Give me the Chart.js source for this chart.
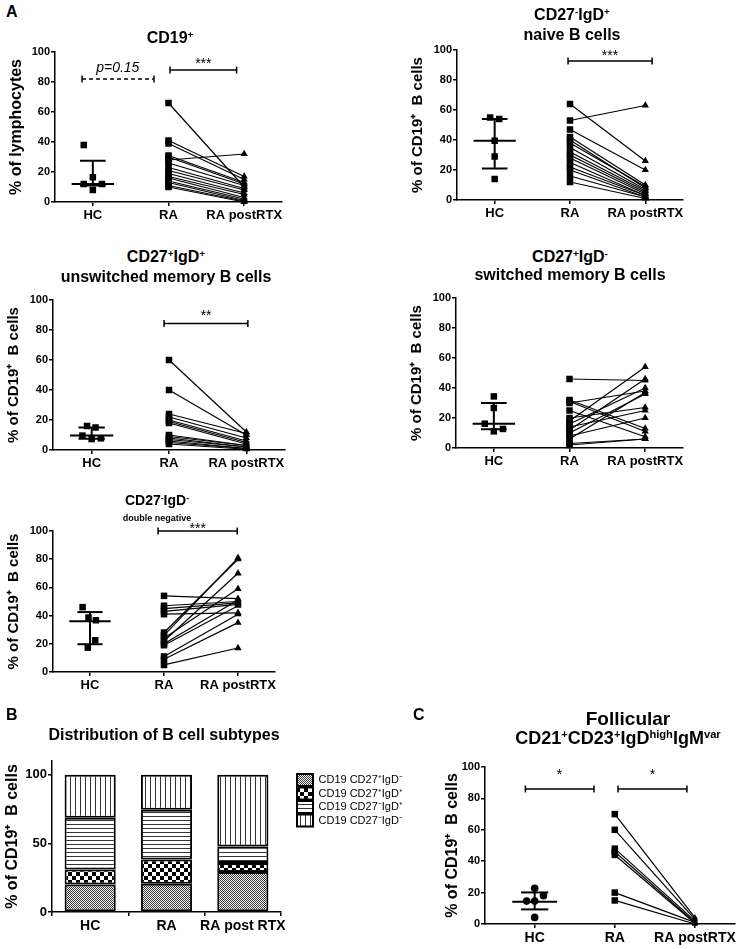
<!DOCTYPE html>
<html><head><meta charset="utf-8">
<script src="https://cdn.jsdelivr.net/npm/chart.js@4.4.0/dist/chart.umd.min.js"></script>
<style>
html,body{margin:0;padding:0;background:#fff;}
body{width:740px;height:949px;position:relative;overflow:hidden;font-family:"Liberation Sans",Arial,Helvetica,sans-serif;color:#000;}
canvas{position:absolute;}
.t{position:absolute;font-weight:bold;white-space:nowrap;transform:translate(-50%,-50%);line-height:1;z-index:5;}
.lt{position:absolute;font-weight:bold;font-size:16px;line-height:1;z-index:5;}
.t sup{font-size:0.62em;position:relative;top:-0.5em;vertical-align:baseline;line-height:0;}
</style></head>
<body>
<div class="lt" style="left:6px;top:4px">A</div>
<div class="t" style="left:170px;top:38px;font-size:16px">CD19<sup>+</sup></div>
<div class="t" style="left:572px;top:15px;font-size:16px">CD27<sup>-</sup>IgD<sup>+</sup></div>
<div class="t" style="left:572px;top:35px;font-size:16px">naive B cells</div>
<div class="t" style="left:166px;top:257px;font-size:16px">CD27<sup>+</sup>IgD<sup>+</sup></div>
<div class="t" style="left:166px;top:277px;font-size:16px">unswitched memory B cells</div>
<div class="t" style="left:570px;top:257px;font-size:16px">CD27<sup>+</sup>IgD<sup>-</sup></div>
<div class="t" style="left:570px;top:275px;font-size:16px">switched memory B cells</div>
<div class="t" style="left:157px;top:500px;font-size:14px">CD27<sup>-</sup>IgD<sup>-</sup></div>
<div class="t" style="left:157px;top:518px;font-size:9px">double negative</div>
<div class="lt" style="left:6px;top:707px">B</div>
<div class="t" style="left:164px;top:735px;font-size:16px">Distribution of B cell subtypes</div>
<div class="lt" style="left:413px;top:707px">C</div>
<div class="t" style="left:628px;top:718px;font-size:19px">Follicular</div>
<div class="t" style="left:618px;top:738px;font-size:18px">CD21<sup>+</sup>CD23<sup>+</sup>IgD<sup>high</sup>IgM<sup>var</sup></div>

<canvas id="a1"></canvas>
<canvas id="a2"></canvas>
<canvas id="a3"></canvas>
<canvas id="a4"></canvas>
<canvas id="a5"></canvas>
<canvas id="b"></canvas>
<canvas id="c"></canvas>

<script>
// ---------------- DATA ----------------
const categories = ['HC', 'RA', 'RA postRTX'];

// A1: CD19+ (% of lymphocytes)
const cd19HC = [38, 16.5, 12, 12, 8];
const cd19HCJitter = [-0.12, 0, -0.12, 0.12, 0];
const cd19Stats = [11, 12, 27.5];            // [lower, median, upper]
const cd19RA   = [66, 41, 39, 31, 30, 28, 26, 23, 21, 19, 17, 16, 14, 13, 11, 10];
const cd19Post = [10, 17, 15, 13, 12, 32, 11, 9, 8, 6, 5, 3, 2, 1, 0.5, 0];

// A2: CD27-IgD+ naive
const naiveHC = [55, 54, 39.5, 29, 14];
const naiveHCJitter = [-0.06, 0.06, 0, 0, 0];
const naiveStats = [21, 39.5, 54];
const naiveRA   = [64, 53, 47, 42, 40, 38, 35, 32, 30, 28, 25, 22, 20, 16, 12];
const naivePost = [26, 63, 20, 10, 8, 9, 7, 6, 5, 4, 3, 3, 2, 2, 1];

// A3: CD27+IgD+ unswitched memory
const unswHC = [16, 15, 9.6, 7.3, 7.8];
const unswHCJitter = [-0.06, 0.05, -0.12, 0, 0.12];
const unswStats = [7.5, 9.6, 15];
const unswRA   = [60, 40, 24, 22, 20, 19, 18, 10, 9, 8, 7, 6, 5, 4];
const unswPost = [12, 10, 11, 8, 6, 5, 4, 3, 3, 2, 2, 1, 1, 0.5];

// A4: CD27+IgD- switched memory
const swHC = [34.4, 26.7, 16.2, 11.1, 12.7];
const swHCJitter = [0, 0, -0.12, 0, 0.12];
const swStats = [12.5, 16.2, 30];
const swRA   = [46, 32, 31, 30, 25, 20, 18, 16, 14, 12, 10, 8, 6, 3, 2];
const swPost = [45, 13, 11, 38, 7.5, 27, 54, 40, 25, 46, 36, 20, 37, 6, 6];

// A5: CD27-IgD- double negative
const dnHC = [46, 38.6, 36.7, 22.5, 17.3];
const dnHCJitter = [-0.1, -0.02, 0.08, 0.07, -0.03];
const dnStats = [19.7, 36, 42.5];
const dnRA   = [54, 47, 45, 43, 41, 28, 26, 24, 22, 20, 19, 11, 9, 5];
const dnPost = [52, 50, 49, 48, 42, 80, 81, 59, 70, 51, 47, 41, 35, 17];

// C: Follicular
const follHC = [22.7, 18, 14.6, 14.6, 4.2];
const follHCJitter = [0, 0.11, -0.1, 0, 0];
const follStats = [9.3, 14.2, 20.1];
const follRA   = [70, 60, 48, 46, 44, 20, 15];
const follPost = [4, 3, 2, 1, 0.5, 1, 0];

// B: distribution of B cell subtypes (stacked %)
const bCategories = ['HC', 'RA', 'RA post RTX'];
const bLegend = ['CD19 CD27\u207AIgD\u207B', 'CD19 CD27\u207AIgD\u207A', 'CD19 CD27\u207BIgD\u207A', 'CD19 CD27\u207BIgD\u207B'];
const bSwitched   = [20, 20.6, 29.1];
const bUnswitched = [11, 17.7, 6.6];
const bNaive      = [37.7, 36.2, 12.1];
const bDN         = [31.3, 25.5, 52.2];

// ---------------- RENDER ----------------
const FONT = '"Liberation Sans", Arial, Helvetica, sans-serif';
Chart.defaults.font.family = FONT;
Chart.defaults.color = '#000';

const textPlugin = {
  id: 'txt',
  afterDatasetsDraw(chart, args, opts) {
    const ctx = chart.ctx, x = chart.scales.x, y = chart.scales.y;
    (opts.items || []).forEach(it => {
      ctx.save();
      ctx.font = it.font + ' ' + FONT;
      ctx.fillStyle = '#000';
      ctx.textAlign = 'center';
      ctx.textBaseline = 'middle';
      const size = parseFloat(it.font.match(/([\d.]+)px/)[1]);
      const dy = it.text.indexOf('*') >= 0 ? size * 0.25 : 0;
      ctx.fillText(it.text, x.getPixelForValue(it.x), y.getPixelForValue(it.y) + dy);
      ctx.restore();
    });
  }
};

const axisGrid = {display: true, drawOnChartArea: false, drawTicks: true, tickLength: 4, color: '#000', lineWidth: 1.5};
const axisBorder = {display: true, color: '#000', width: 1.5};

function scatterPanel(id, box, o) {
  const yW = o.yW || 52, xH = 35, padT = 30, padR = 8;
  const cv = document.getElementById(id);
  const left = box.l - yW, top = box.t - padT;
  cv.width = box.r + padR - left; cv.height = box.b + xH - top;
  cv.style.left = left + 'px'; cv.style.top = top + 'px';
  const line = (pts, w) => ({data: pts, showLine: true, borderColor: '#000', borderWidth: w, pointRadius: 0, clip: false});
  const ds = [];
  o.ra.forEach((v, i) => ds.push({
    data: [{x: 1, y: v}, {x: 2, y: o.post[i]}], showLine: true, borderColor: '#000', borderWidth: 1.2,
    backgroundColor: '#000', pointBackgroundColor: '#000', pointBorderWidth: 0,
    pointStyle: ['rect', 'triangle'], pointRadius: [o.sq || 4.6, o.tri || 4.2], clip: false
  }));
  ds.push({data: o.hc.map((v, i) => ({x: o.hcJit[i], y: v})), showLine: false,
    pointStyle: o.hcStyle || 'rect', pointRadius: o.hcStyle === 'circle' ? 3.8 : 4.6,
    pointBackgroundColor: '#000', pointBorderWidth: 0, clip: false});
  const [q1, med, q3] = o.stats;
  ds.push(line([{x: -0.28, y: med}, {x: 0.28, y: med}], 2));
  ds.push(line([{x: 0, y: q1}, {x: 0, y: q3}], 2));
  ds.push(line([{x: -0.17, y: q3}, {x: 0.17, y: q3}], 2));
  ds.push(line([{x: -0.17, y: q1}, {x: 0.17, y: q1}], 2));
  o.sig.forEach(s => ds.push({
    data: [{x: s[0], y: s[2]}, {x: s[1], y: s[2]}], showLine: true, borderColor: '#000', borderWidth: 1.5,
    borderDash: s[3] ? [4, 3] : [], pointStyle: 'line', rotation: 90, pointRadius: 3.5,
    pointBorderWidth: 1.5, pointBorderColor: '#000', clip: false
  }));
  new Chart(cv, {
    type: 'scatter',
    data: {datasets: ds},
    options: {
      responsive: false, animation: false, events: [],
      layout: {padding: {top: padT, right: padR, left: 0, bottom: 0}},
      plugins: {legend: {display: false}, tooltip: {enabled: false}, txt: {items: o.txt}},
      scales: {
        x: {
          type: 'linear', min: o.xmin !== undefined ? o.xmin : -0.5, max: 2.5,
          afterBuildTicks: s => { s.ticks = [0, 1, 2].map(v => ({value: v})); },
          ticks: {callback: v => categories[v], font: {size: o.catSize || 13, weight: 'bold'}, color: '#000', padding: 2, maxRotation: 0, autoSkip: false},
          grid: axisGrid, border: axisBorder,
          afterFit: s => { s.height = xH; s.paddingLeft = 0; s.paddingRight = 0; }
        },
        y: {
          min: 0, max: 100,
          afterBuildTicks: s => { s.ticks = [0, 20, 40, 60, 80, 100].map(v => ({value: v})); },
          ticks: {font: {size: o.tickSize || 11, weight: 'bold'}, color: '#000', padding: 1},
          grid: axisGrid, border: axisBorder,
          title: {display: true, text: o.yTitle, font: {size: o.ytSize || 15, weight: 'bold'}, color: '#000', padding: {top: 4, bottom: 0}},
          afterFit: s => { s.width = yW; s.paddingTop = 0; s.paddingBottom = 0; }
        }
      }
    },
    plugins: [textPlugin]
  });
}

const yCD19 = '% of CD19\u207A  B cells';
const starFont = '14px';

scatterPanel('a1', {l: 55, r: 282, t: 52, b: 202}, {
  hc: cd19HC, hcJit: cd19HCJitter, stats: cd19Stats, ra: cd19RA, post: cd19Post,
  yTitle: '% of lymphocytes', ytSize: 16,
  sig: [[-0.143, 0.808, 82, true], [1.02, 1.9, 88]],
  txt: [{x: 0.33, y: 89.5, text: 'p=0.15', font: 'italic 14px'}, {x: 1.46, y: 94, text: '***', font: starFont}]
});
scatterPanel('a2', {l: 457, r: 683, t: 50, b: 200}, {
  hc: naiveHC, hcJit: naiveHCJitter, stats: naiveStats, ra: naiveRA, post: naivePost,
  yTitle: yCD19,
  sig: [[0.974, 2.09, 92.7]],
  txt: [{x: 1.53, y: 98, text: '***', font: starFont}]
});
scatterPanel('a3', {l: 53, r: 285, t: 300, b: 450}, {
  hc: unswHC, hcJit: unswHCJitter, stats: unswStats, ra: unswRA, post: unswPost,
  yTitle: yCD19,
  sig: [[0.936, 2.02, 84.4]],
  txt: [{x: 1.48, y: 91.5, text: '**', font: starFont}]
});
scatterPanel('a4', {l: 456, r: 683, t: 298, b: 448}, {
  hc: swHC, hcJit: swHCJitter, stats: swStats, ra: swRA, post: swPost,
  yTitle: yCD19, sig: [], txt: []
});
scatterPanel('a5', {l: 53, r: 275, t: 531, b: 672}, {
  hc: dnHC, hcJit: dnHCJitter, stats: dnStats, ra: dnRA, post: dnPost,
  yTitle: yCD19,
  sig: [[0.92, 1.99, 100]],
  txt: [{x: 1.455, y: 104, text: '***', font: starFont}]
});
scatterPanel('c', {l: 485, r: 735, t: 767, b: 924}, {
  hc: follHC, hcJit: follHCJitter, stats: follStats, ra: follRA, post: follPost,
  hcStyle: 'circle', xmin: -0.62, yW: 46, ytSize: 16, catSize: 14, tri: 3.6,
  yTitle: yCD19,
  sig: [[-0.116, 0.74, 86], [1.04, 1.9, 86]],
  txt: [{x: 0.31, y: 97, text: '*', font: starFont}, {x: 1.47, y: 97, text: '*', font: starFont}]
});

// ---------- Panel B (stacked bars with patterns) ----------
(function () {
  const box = {l: 52, r: 281, t: 761, b: 912};
  const yW = 52, xH = 35, padT = 5, legendW = 95, padR = 30;
  const cv = document.getElementById('b');
  const left = box.l - yW, top = box.t - padT;
  cv.width = box.r + legendW + padR - left; cv.height = box.b + xH - top;
  cv.style.left = left + 'px'; cv.style.top = top + 'px';
  const ctx = cv.getContext('2d');
  function pat(w, h, draw) {
    const c = document.createElement('canvas'); c.width = w; c.height = h;
    const g = c.getContext('2d'); g.fillStyle = '#fff'; g.fillRect(0, 0, w, h);
    draw(g);
    return ctx.createPattern(c, 'repeat');
  }
  const pFine = pat(2, 2, g => { g.fillStyle = '#333'; g.fillRect(0, 0, 1, 1); g.fillRect(1, 1, 1, 1); });
  const pCheck = pat(8, 8, g => { g.fillStyle = '#000'; g.fillRect(0, 0, 4, 4); g.fillRect(4, 4, 4, 4); });
  const pHoriz = pat(1, 4, g => { g.fillStyle = '#333'; g.fillRect(0, 0, 1, 1); });
  const pVert = pat(5, 1, g => { g.fillStyle = '#333'; g.fillRect(0, 0, 1, 1); });
  const series = [bSwitched, bUnswitched, bNaive, bDN];
  const fills = [pFine, pCheck, pHoriz, pVert];
  const legendPos = {
    id: 'legendPos',
    afterLayout(chart) {
      const L = chart.legend; if (!L) return;
      const dx = (297 - left - 1.5) - L.left, dy = (774 - top - 1.5) - L.top;
      L.left += dx; L.top += dy; L.bottom += dy;
      L.right = L.left + 140; L.width = 140;
    }
  };
  new Chart(cv, {
    type: 'bar',
    data: {
      labels: bCategories,
      datasets: series.map((s, i) => ({
        label: bLegend[i], data: s, backgroundColor: fills[i], borderColor: '#000', borderWidth: 2,
        borderSkipped: false, barPercentage: 0.67, categoryPercentage: 1
      }))
    },
    options: {
      responsive: false, animation: false, events: [],
      layout: {padding: {top: padT, right: padR, left: 0, bottom: 0}},
      plugins: {
        tooltip: {enabled: false},
        legend: {position: 'right', align: 'start', maxWidth: legendW,
          labels: {boxWidth: 16, boxHeight: 12, padding: 1.5, font: {size: 11}, color: '#000'}}
      },
      scales: {
        x: {stacked: true,
          ticks: {font: {size: 14, weight: 'bold'}, color: '#000', padding: 2, maxRotation: 0, autoSkip: false},
          grid: axisGrid, border: axisBorder,
          afterFit: s => { s.height = xH; s.paddingLeft = 0; s.paddingRight = 0; }},
        y: {stacked: true, min: 0, max: 110,
          afterBuildTicks: s => { s.ticks = [0, 50, 100].map(v => ({value: v})); },
          ticks: {font: {size: 13, weight: 'bold'}, color: '#000', padding: 1},
          grid: axisGrid, border: axisBorder,
          title: {display: true, text: yCD19, font: {size: 16, weight: 'bold'}, color: '#000', padding: {top: 3, bottom: 0}},
          afterFit: s => { s.width = yW; s.paddingTop = 0; s.paddingBottom = 0; }}
      }
    },
    plugins: [legendPos]
  });
})();
</script>
</body></html>
